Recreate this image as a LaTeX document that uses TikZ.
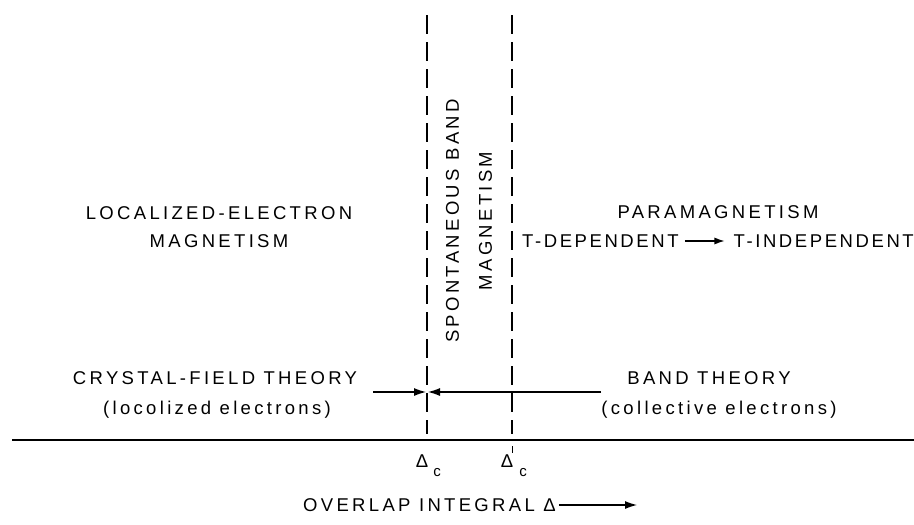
\documentclass[tikz,border=0pt]{standalone}
\usepackage{fontspec}
\usetikzlibrary{arrows.meta}
\newfontfamily\lab[LetterSpace=18]{Liberation Sans}
\newfontfamily\labn[LetterSpace=14]{Liberation Sans}
\begin{document}
\begin{tikzpicture}[x=1pt,y=-1pt,
  lbl/.style={font=\lab\fontsize{18.5}{28}\selectfont, inner sep=0pt, align=center, anchor=center},
  lbln/.style={font=\labn\fontsize{18.5}{28}\selectfont, inner sep=0pt},
  small/.style={font=\lab\fontsize{15}{17}\selectfont, inner sep=0pt},
  divider/.style={line width=1.2pt, dash pattern=on 19pt off 8pt},
  axis/.style={line width=1.2pt},
  arr/.style={line width=1.1pt, -{Latex[length=12pt,width=8pt]}}]
\useasboundingbox (0,0) rectangle (914,525);
% dividers
\coordinate (d1t) at (427,15);
\coordinate (d1b) at (427,434);
\coordinate (d2t) at (512,15);
\coordinate (d2b) at (512,434);
\draw[divider] (d1t) -- (d1b);
\draw[divider] (d2t) -- (d2b);
% axis line
\coordinate (al) at (12,440);
\coordinate (ar) at (914,440);
\draw[axis] (al) -- (ar);
% region labels
\node[lbl] (loc) at (219,227) {LOCALIZED-ELECTRON\\MAGNETISM};
\node[lbl] (para) at (718,212) {PARAMAGNETISM};
\node[lbln, anchor=west] (tdep) at (522,241) {T-DEPENDENT};
\node[lbln, anchor=east] (tind) at (914,241) {T-INDEPENDENT};
\draw[line width=1.1pt,-{Latex[length=10pt,width=7pt]}] ([xshift=6pt]tdep.east) -- ([xshift=-9pt]tind.west);
\node[lbl, rotate=90, font=\lab\fontsize{18.5}{33}\selectfont] (spont) at (469,221) {SPONTANEOUS BAND\\MAGNETISM};
% theory labels
\node[lbl] (cft) at (215,378) {CRYSTAL-FIELD THEORY};
\node[lbl] (cfe) at (217,410) {(locolized electrons)};
\node[lbl] (bt) at (709,378) {BAND THEORY};
\node[lbl] (bte) at (719,410) {(collective electrons)};
% arrows
\coordinate (la) at (373,392);
\coordinate (lt) at (426,392);
\coordinate (ra) at (601,392);
\coordinate (rt) at (428,392);
\draw[arr] (la) -- (lt);
\draw[arr] (ra) -- (rt);
% critical values
\node[lbl] (dc) at (422,461) {Δ};
\node[small] (dcs) at (437,473) {c};
\node[lbl] (dcp) at (507,461) {Δ};
\node[small] (dcps) at (523,473) {c};
\coordinate (pt) at (512.5,446);
\coordinate (pb) at (512.5,453);
\draw[line width=1pt] (pt) -- (pb);
% overlap integral
\node[lbl, anchor=west] (ov) at (303,505) {OVERLAP INTEGRAL Δ};
\coordinate (ovend) at (637,505);
\draw[arr] ([xshift=3pt]ov.east) -- (ovend);
\end{tikzpicture}
\end{document}
